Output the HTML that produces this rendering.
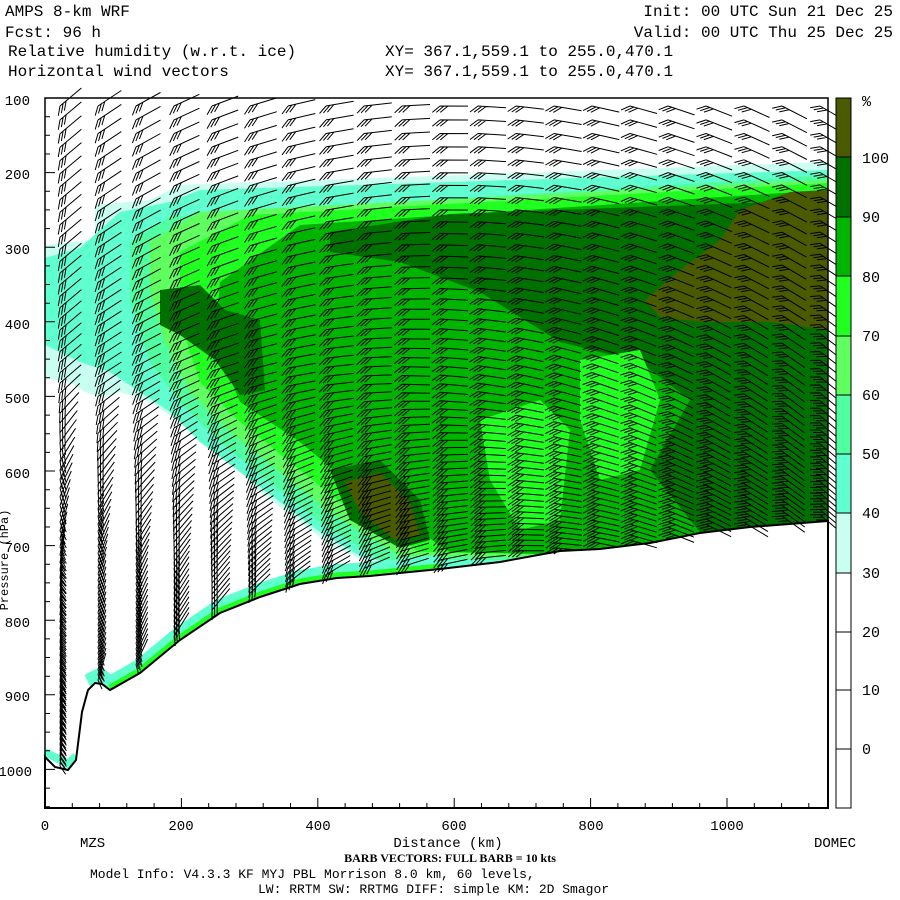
<!DOCTYPE html>
<html><head><meta charset="utf-8"><style>
html,body{margin:0;padding:0;background:#fff;}
svg{display:block;}
text{font-family:"Liberation Mono",monospace;fill:#000;}
</style></head><body>
<svg id="s" width="900" height="900" viewBox="0 0 900 900" xmlns="http://www.w3.org/2000/svg">
<rect width="900" height="900" fill="#fff"/>
<g font-size="16">
<text x="5" y="16">AMPS 8-km WRF</text>
<text x="5" y="37">Fcst:   96 h</text>
<text x="8" y="56">Relative humidity (w.r.t. ice)</text>
<text x="8" y="76">Horizontal wind vectors</text>
<text x="385" y="56">XY= 367.1,559.1 to 255.0,470.1</text>
<text x="385" y="76">XY= 367.1,559.1 to 255.0,470.1</text>
<text x="893" y="16" text-anchor="end">Init: 00 UTC Sun 21 Dec 25</text>
<text x="893" y="37" text-anchor="end">Valid: 00 UTC Thu 25 Dec 25</text>
</g>
<g id="hum">
<polygon fill="#c8fff0" points="45,245 95,240 95,205 150,200 180,185 828,162 828,560 440,580 380,568 330,545 300,522 260,492 230,462 200,442 180,422 150,402 120,392 100,397 85,392 70,382 45,378"/>
<polygon fill="#60ffd0" points="45,258 80,248 120,212 170,202 200,190 828,170 828,560 440,575 360,556 320,532 280,502 240,472 200,442 170,412 140,392 110,372 80,362 45,345"/>
<polygon fill="#50ffa0" points="130,242 170,217 828,175 828,560 380,560 320,522 270,482 220,442 180,402 150,362 130,302"/>
<polygon fill="#60ff60" points="150,242 200,212 828,180 828,560 400,556 330,512 280,472 230,432 190,392 165,342 150,292"/>
<polygon fill="#20ff20" points="180,252 250,215 828,183 828,560 420,552 340,502 290,462 240,422 200,382 180,322"/>
<polygon fill="#00b400" points="220,282 300,225 828,190 828,560 450,552 360,492 300,442 240,402 215,342"/>
<polygon fill="#007000" points="330,232 450,214 828,200 828,520 700,532 650,470 690,400 640,362 560,342 480,292 400,262 330,252"/>
<polygon fill="#20ff20" points="480,420 540,400 570,430 560,520 520,530 490,480"/>
<polygon fill="#20ff20" points="580,360 640,350 660,400 640,470 600,480 580,420"/>
<polygon fill="#007000" points="160,290 200,285 225,310 260,320 265,390 240,395 215,360 180,335 160,325"/>
<polygon fill="#007000" points="330,470 380,460 420,500 430,540 400,548 350,520"/>
<polygon fill="#4a5a00" points="345,482 380,472 410,502 420,535 395,540 360,512"/>
<polygon fill="#4a5a00" points="645,300 680,270 720,240 740,210 790,192 828,190 828,330 770,322 700,322 660,317"/>
<polyline fill="none" stroke="#60ffd0" stroke-width="16" points="88,682 100,676 110,684 140,667 180,634 220,607 260,591 300,578 337,572 370,570 440,563"/>
<polyline fill="none" stroke="#20ff20" stroke-width="7" points="110,688 140,671 180,638 220,611 260,595 300,582 337,576 370,574 440,567"/>
<polyline fill="none" stroke="#60ffd0" stroke-width="8" points="45,752 60,760 68,764 76,756"/>
</g>
<polygon id="ter" fill="#fff" stroke="#000" stroke-width="2" points="45,757 55,767 68,770 76,760 82,712 88,690 95,683 102,684 110,690 140,673 180,640 220,613 260,597 300,584 337,578 370,576 440,569 500,562 560,551 600,549 650,543 700,533 750,527 828,521 828,808 45,808"/>
<path id="barbs" fill="none" stroke="#000" stroke-width="1" d=""/>
<rect x="45" y="98" width="783" height="710" fill="none" stroke="#000" stroke-width="1.5"/>
<path id="ticks" stroke="#000" stroke-width="1" d=""/>
<g font-size="14">
<text x="30" y="105" text-anchor="end">100</text>
<text x="30" y="179" text-anchor="end">200</text>
<text x="30" y="254" text-anchor="end">300</text>
<text x="30" y="329" text-anchor="end">400</text>
<text x="30" y="403" text-anchor="end">500</text>
<text x="30" y="478" text-anchor="end">600</text>
<text x="30" y="552" text-anchor="end">700</text>
<text x="30" y="627" text-anchor="end">800</text>
<text x="30" y="701" text-anchor="end">900</text>
<text x="32" y="776" text-anchor="end">1000</text>
<text x="45" y="830" text-anchor="middle">0</text>
<text x="181" y="830" text-anchor="middle">200</text>
<text x="318" y="830" text-anchor="middle">400</text>
<text x="454" y="830" text-anchor="middle">600</text>
<text x="591" y="830" text-anchor="middle">800</text>
<text x="727" y="830" text-anchor="middle">1000</text>
<text x="80" y="847">MZS</text>
<text x="448" y="847" text-anchor="middle">Distance (km)</text>
<text x="856" y="847" text-anchor="end">DOMEC</text>
<text x="8" y="560" transform="rotate(-90 8 560)" font-size="12" text-anchor="middle">Pressure (hPa)</text>
</g>
<text x="450" y="862" text-anchor="middle" style="font-family:'Liberation Serif',serif;font-weight:bold" font-size="12">BARB VECTORS:  FULL BARB = 10 kts</text>
<text x="90" y="878" font-size="13">Model Info: V4.3.3  KF     MYJ PBL  Morrison         8.0 km,  60 levels,</text>
<text x="258" y="893" font-size="13">LW: RRTM SW: RRTMG   DIFF: simple KM: 2D Smagor</text>
<g stroke="#000" stroke-width="1">
<rect x="836" y="98" width="15" height="59" fill="#4a5a00"/>
<rect x="836" y="157" width="15" height="60" fill="#007000"/>
<rect x="836" y="217" width="15" height="59" fill="#00b400"/>
<rect x="836" y="276" width="15" height="60" fill="#20ff20"/>
<rect x="836" y="336" width="15" height="59" fill="#60ff60"/>
<rect x="836" y="395" width="15" height="59" fill="#50ffa0"/>
<rect x="836" y="454" width="15" height="59" fill="#60ffd0"/>
<rect x="836" y="513" width="15" height="60" fill="#c8fff0"/>
<rect x="836" y="573" width="15" height="235" fill="#fff"/>
<line x1="836" y1="632" x2="851" y2="632"/>
<line x1="836" y1="690" x2="851" y2="690"/>
<line x1="836" y1="749" x2="851" y2="749"/>
</g>
<g font-size="15">
<text x="862" y="106">%</text>
<text x="862" y="163">100</text>
<text x="862" y="222">90</text>
<text x="862" y="282">80</text>
<text x="862" y="341">70</text>
<text x="862" y="400">60</text>
<text x="862" y="459">50</text>
<text x="862" y="518">40</text>
<text x="862" y="578">30</text>
<text x="862" y="637">20</text>
<text x="862" y="695">10</text>
<text x="862" y="754">0</text>
</g>
</svg>
<script>
(function(){
var TER=[[45,757],[55,767],[68,770],[76,760],[82,712],[88,690],[95,683],[102,684],[110,690],[140,673],[180,640],[220,613],[260,597],[300,584],[337,578],[370,576],[440,569],[500,562],[560,551],[600,549],[650,543],[700,533],[750,527],[828,521]];
function terrainY(px){
  for(var j=0;j<TER.length-1;j++){
    if(px>=TER[j][0]&&px<=TER[j+1][0]){
      var u=(px-TER[j][0])/(TER[j+1][0]-TER[j][0]);
      return TER[j][1]+u*(TER[j+1][1]-TER[j][1]);
    }
  }
  return 521;
}
function clamp(v){return Math.max(0,Math.min(1,v));}
function fmt(v){return (Math.round(v*10)/10).toString();}
var DEG=Math.PI/180;
var parts=[];
for(var col=0;col<=20;col++){
  var bx=60+38*col;
  var ytop=terrainY(bx+5);
  var frac=col/20;
  var by=106;
  while(by<ytop-3){
    var leftAng=-40-45*clamp((by-380)/200);
    var rightAng=30+10*clamp((by-200)/200);
    var phi=leftAng+(rightAng-leftAng)*Math.pow(frac,0.8);
    var len=28;
    var cx=Math.cos(phi*DEG), cy=Math.sin(phi*DEG);
    var sx=bx+len*cx, sy=by+len*cy;
    parts.push("M"+fmt(bx)+" "+fmt(by)+"L"+fmt(sx)+" "+fmt(sy));
    var ta=(phi+140)*DEG;
    var tx=10*Math.cos(ta), tyv=10*Math.sin(ta);
    for(var k=0;k<3;k++){
      var px=bx+4*k*cx, py=by+4*k*cy;
      parts.push("M"+fmt(px)+" "+fmt(py)+"l"+fmt(tx)+" "+fmt(tyv));
    }
    var hrel=(by-100)/(ytop-100);
    by+=5+9*(1-hrel);
  }
}
document.getElementById("barbs").setAttribute("d",parts.join(""));
var tk=[];
for(var p=100;p<=1050;p+=25){var yy=98+(p-100)*0.746;tk.push("M45 "+fmt(yy)+"h"+(p%100==0?10:5));}
for(var km=0;km<=1140;km+=40){var xx=45+km*0.682;tk.push("M"+fmt(xx)+" 808v"+(km%200==0?-10:-5));}
document.getElementById("ticks").setAttribute("d",tk.join(""));
})();
</script>
</body></html>
